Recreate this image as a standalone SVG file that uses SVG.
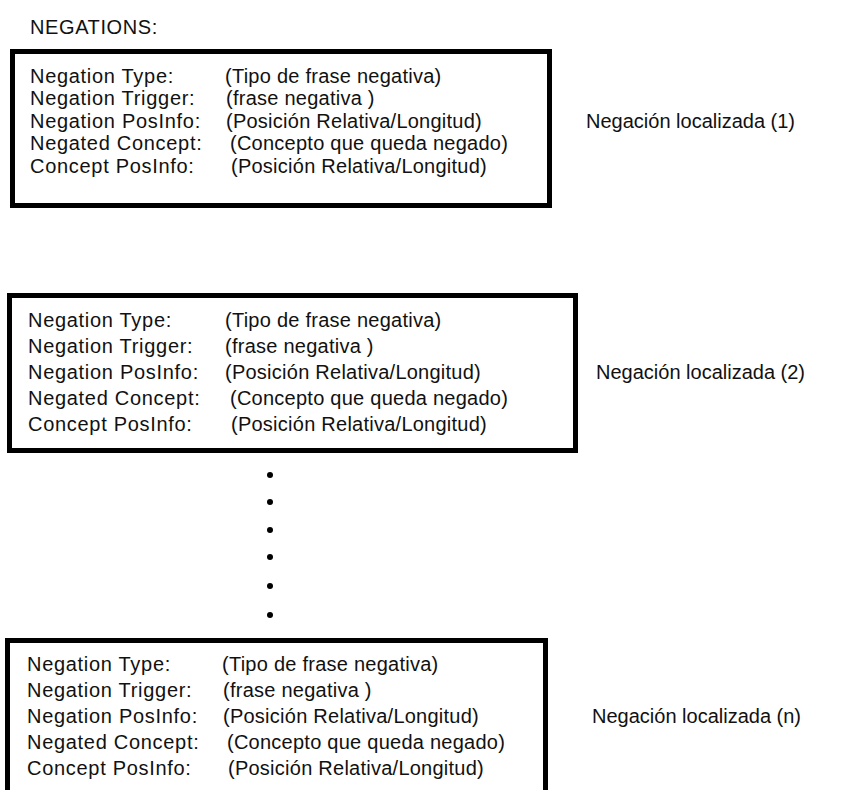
<svg xmlns="http://www.w3.org/2000/svg" width="858" height="790" viewBox="0 0 858 790">
<style>
text{font-family:"Liberation Sans",Arial,sans-serif;font-size:20px;fill:#111;letter-spacing:0.25px}
.k{letter-spacing:0.7px}
.box{fill:#fff;stroke:#000;stroke-width:5}
.lbl{letter-spacing:0}
.dot{fill:#000}
</style>
<rect width="858" height="790" fill="#fff"/>
<text x="30" y="34" style="letter-spacing:0.6px">NEGATIONS:</text>
<g id="neg1">
<rect class="box" x="12.5" y="51.5" width="537" height="154"/>
<text class="k" x="30" y="82.5">Negation Type:</text>
<text class="k" x="30" y="105">Negation Trigger:</text>
<text class="k" x="30" y="127.5">Negation PosInfo:</text>
<text class="k" x="30" y="150">Negated Concept:</text>
<text class="k" x="30" y="172.5">Concept PosInfo:</text>
<text x="225" y="82.5">(Tipo de frase negativa)</text>
<text x="226" y="105">(frase negativa )</text>
<text x="226" y="127.5">(Posición Relativa/Longitud)</text>
<text x="230" y="150">(Concepto que queda negado)</text>
<text x="231" y="172.5">(Posición Relativa/Longitud)</text>
</g>
<text class="lbl" x="586" y="128">Negación localizada (1)</text>
<g id="neg2">
<rect class="box" x="9.5" y="295.5" width="566" height="155"/>
<text class="k" x="28" y="327">Negation Type:</text>
<text class="k" x="28" y="353">Negation Trigger:</text>
<text class="k" x="28" y="379">Negation PosInfo:</text>
<text class="k" x="28" y="405">Negated Concept:</text>
<text class="k" x="28" y="431">Concept PosInfo:</text>
<text x="225" y="327">(Tipo de frase negativa)</text>
<text x="225" y="353">(frase negativa )</text>
<text x="225" y="379">(Posición Relativa/Longitud)</text>
<text x="230" y="405">(Concepto que queda negado)</text>
<text x="231" y="431">(Posición Relativa/Longitud)</text>
</g>
<text class="lbl" x="596" y="379">Negación localizada (2)</text>
<g id="dots">
<circle class="dot" cx="270" cy="475" r="3"/>
<circle class="dot" cx="270" cy="502" r="3"/>
<circle class="dot" cx="270" cy="530" r="3"/>
<circle class="dot" cx="270" cy="557" r="3"/>
<circle class="dot" cx="270" cy="586" r="3"/>
<circle class="dot" cx="270" cy="615" r="3"/>
</g>
<g id="negn">
<rect class="box" x="7.5" y="640.5" width="538" height="200"/>
<text class="k" x="27" y="671">Negation Type:</text>
<text class="k" x="27" y="697">Negation Trigger:</text>
<text class="k" x="27" y="723">Negation PosInfo:</text>
<text class="k" x="27" y="749">Negated Concept:</text>
<text class="k" x="27" y="775">Concept PosInfo:</text>
<text x="222" y="671">(Tipo de frase negativa)</text>
<text x="223" y="697">(frase negativa )</text>
<text x="223" y="723">(Posición Relativa/Longitud)</text>
<text x="227" y="749">(Concepto que queda negado)</text>
<text x="228" y="775">(Posición Relativa/Longitud)</text>
</g>
<text class="lbl" x="592" y="723">Negación localizada (n)</text>
</svg>
